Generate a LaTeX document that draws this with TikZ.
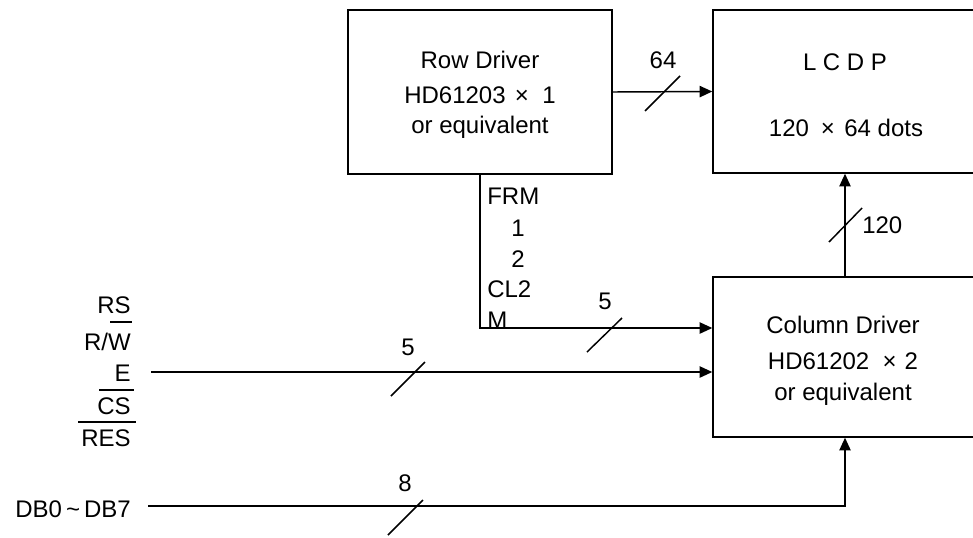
\documentclass[tikz,border=0pt]{standalone}
\usepackage{fontspec}
\setmainfont{Liberation Sans}
\usetikzlibrary{arrows.meta,calc}
\begin{document}
\begin{tikzpicture}[x=0.75pt,y=-0.75pt,
  txt/.style={font=\fontsize{18}{21}\selectfont, inner sep=0pt, text height=12.8pt, text depth=0pt},
  box/.style={draw, line width=1.1pt, inner sep=0pt, minimum width=198pt},
  wire/.style={line width=1.1pt},
  arr/.style={wire, -{Triangle[length=9.5pt,width=8.5pt]}},
  slash/.style={line width=1.1pt},
  bar/.style={line width=1.1pt}]
\useasboundingbox (0,0) rectangle (973,537);
\clip (0,0) rectangle (973,537);

% boxes
\node[box, minimum height=123pt] (row) at (480,92) {};
\node[box, minimum height=122.25pt] (lcd) at (845,91.5) {};
\node[box, minimum height=120pt] (col) at (845,357) {};

% box texts
\node[txt] (r1) at (480,60) {Row Driver};
\node[txt] (r2) at (480,95) {HD61203\hspace{7pt}×\hspace{10pt}1};
\node[txt] (r3) at (480,125) {or equivalent};
\node[txt] (l1) at (845,62) {L C D P};
\node[txt] (l2) at (846,128) {120\hspace{9pt}×\hspace{7pt}64 dots};
\node[txt] (c1) at (843,325) {Column Driver};
\node[txt] (c2) at (843,361) {HD61202\hspace{10pt}×\hspace{6pt}2};
\node[txt] (c3) at (843,392) {or equivalent};

% left labels
\node[txt, anchor=east] (rs) at (131,305) {RS};
\node[txt, anchor=east] (rw) at (131,342) {R/W};
\node[txt, anchor=east] (e) at (131,373) {E};
\node[txt, anchor=east] (cs) at (131,406) {CS};
\node[txt, anchor=east] (res) at (131,438) {RES};
\node[txt, anchor=east] (db) at (131,509) {DB0\,\textasciitilde\,DB7};
\draw[bar] (110,322) -- (132,322);
\draw[bar] (99,390) -- (134,390);
\draw[bar] (78,422) -- (136,422);

% row driver side labels
\node[txt, anchor=west] (frm) at (487,196) {FRM};
\node[txt] (p1) at (518,228) {1};
\node[txt] (p2) at (518,259) {2};
\node[txt, anchor=west] (cl2) at (487,289) {CL2};
\node[txt, anchor=west] (m) at (487,320) {M};

% connectors
\coordinate (y1) at (0,328);
\coordinate (es) at ($(e.east)+(20,-1)$);
\coordinate (ds) at ($(db.east)+(17,-3)$);
\draw[arr] (row.east) -- (lcd.west);
\draw[arr] (row.south) |- (col.west |- y1);
\draw[arr] (es) -- (col.west |- es);
\draw[arr] (ds) -| (col.south);
\draw[arr] (col.north) -- (lcd.south);

% bus slashes and widths
\draw[slash] (645,111) -- (680,76);
\node[txt] (n64) at (663,60) {64};
\draw[slash] (587,352) -- (622,318);
\node[txt] (n5a) at (605,301) {5};
\draw[slash] (391,396) -- (425,362);
\node[txt] (n5b) at (408,347) {5};
\draw[slash] (388,535) -- (423,500);
\node[txt] (n8) at (405,483) {8};
\draw[slash] (829,242) -- (862,208);
\node[txt, anchor=west] (n120) at (862,225) {120};
\end{tikzpicture}
\end{document}
